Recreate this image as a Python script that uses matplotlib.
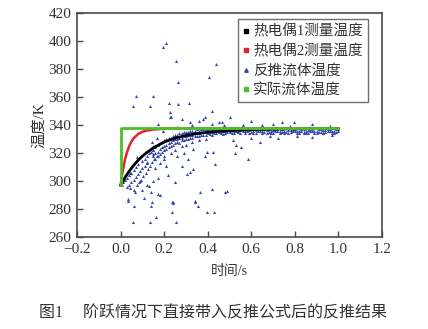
import matplotlib
matplotlib.use("Agg")
import matplotlib.pyplot as plt
from matplotlib.lines import Line2D

plt.rcParams['font.family'] = ['Liberation Serif', 'Noto Sans CJK SC']
plt.rcParams['axes.unicode_minus'] = True

# thermocouple readings (step input)
tc1_t = [0.0, 0.02, 0.04, 0.06, 0.08, 0.10, 0.12, 0.15, 0.18, 0.21, 0.25,
         0.30, 0.35, 0.40, 0.50, 0.60, 0.70, 0.80, 0.90, 1.0]
tc1_T = [297.0, 302.4, 307.1, 311.2, 314.7, 317.7, 320.3, 323.6, 326.2, 328.4, 330.6,
         332.5, 333.9, 334.8, 336.0, 336.7, 337.1, 337.3, 337.5, 337.5]

tc2_t = [0.0, 0.005, 0.01, 0.02, 0.03, 0.04, 0.05, 0.06, 0.08, 0.10, 0.12,
         0.15, 0.20, 0.30, 0.50, 0.70, 1.0]
tc2_T = [297.0, 302.6, 307.4, 315.2, 320.9, 325.1, 328.2, 330.5, 333.5, 335.1, 336.0,
         336.8, 337.3, 337.5, 337.5, 337.5, 337.5]

# actual fluid temperature: step from 297 K to 338 K at t = 0
real_t = [0.0, 0.0, 1.0]
real_T = [297.0, 338.0, 338.0]

# inverse-calculated fluid temperature, dense part
band_t = [0.005, 0.012, 0.020, 0.030, 0.040, 0.050, 0.060, 0.070, 0.080,
          0.030, 0.040, 0.050, 0.060, 0.070, 0.080, 0.090, 0.100, 0.110, 0.120,
          0.075, 0.085, 0.095, 0.105, 0.115, 0.125, 0.135, 0.145, 0.155, 0.165,
          0.100, 0.110, 0.120, 0.130, 0.140, 0.150,
          0.15, 0.15, 0.15, 0.16, 0.16, 0.16, 0.17, 0.17, 0.17, 0.18, 0.18, 0.18,
          0.19, 0.19, 0.19, 0.20, 0.20, 0.20, 0.20, 0.21, 0.21, 0.21,
          0.22, 0.22, 0.22, 0.23, 0.23, 0.23, 0.23, 0.24, 0.24, 0.24,
          0.25, 0.25, 0.25, 0.25, 0.26, 0.26, 0.26, 0.27, 0.27, 0.27,
          0.28, 0.28, 0.28, 0.28, 0.29, 0.29, 0.29, 0.30, 0.30, 0.30, 0.30,
          0.31, 0.31, 0.31, 0.32, 0.32, 0.32, 0.33, 0.33, 0.33, 0.33,
          0.34, 0.34, 0.34, 0.35, 0.35, 0.35, 0.36, 0.36, 0.36, 0.36,
          0.37, 0.37, 0.37, 0.38, 0.38, 0.38, 0.39, 0.39, 0.39, 0.39,
          0.40, 0.40, 0.40, 0.41, 0.41, 0.42, 0.42, 0.42, 0.43, 0.43,
          0.44, 0.44, 0.44, 0.45, 0.45, 0.46, 0.46, 0.46, 0.47, 0.47,
          0.48, 0.48, 0.48, 0.49, 0.49, 0.50, 0.50, 0.50, 0.51, 0.51,
          0.52, 0.52, 0.52, 0.53, 0.53, 0.54, 0.54, 0.54, 0.55, 0.55,
          0.56, 0.56, 0.57, 0.57, 0.58, 0.58, 0.59, 0.59, 0.60, 0.60,
          0.61, 0.61, 0.62, 0.62, 0.63, 0.63, 0.64, 0.64, 0.65, 0.65,
          0.66, 0.66, 0.67, 0.67, 0.68, 0.68, 0.69, 0.69, 0.70, 0.70,
          0.71, 0.71, 0.72, 0.72, 0.73, 0.73, 0.74, 0.74, 0.75, 0.75,
          0.76, 0.76, 0.77, 0.77, 0.78, 0.78, 0.79, 0.79, 0.80, 0.80,
          0.81, 0.81, 0.82, 0.82, 0.83, 0.83, 0.84, 0.84, 0.85, 0.85,
          0.86, 0.86, 0.87, 0.87, 0.88, 0.88, 0.89, 0.89, 0.90, 0.90,
          0.91, 0.91, 0.92, 0.92, 0.93, 0.93, 0.94, 0.94, 0.95, 0.95,
          0.96, 0.96, 0.97, 0.97, 0.98, 0.98, 0.99, 0.99, 1.00, 1.00]
band_T = [297.5, 299.0, 300.5, 302.0, 304.0, 306.0, 308.0, 310.0, 312.0,
          296.0, 297.5, 299.0, 301.0, 303.0, 305.0, 307.0, 309.0, 311.0, 313.0,
          297.0, 299.0, 301.0, 303.5, 306.0, 308.5, 311.0, 313.5, 316.0, 318.0,
          314.0, 316.0, 318.0, 320.0, 321.0, 322.0,
          318.0, 322.0, 325.0, 320.0, 324.0, 316.0, 321.0, 326.0, 318.0, 323.0, 319.0, 327.0,
          324.0, 328.0, 321.0, 325.0, 322.0, 329.0, 318.0, 326.0, 330.0, 323.0,
          327.0, 324.0, 331.0, 328.0, 325.0, 331.0, 320.0, 329.0, 326.0, 332.0,
          330.0, 327.0, 333.0, 322.0, 330.0, 328.0, 333.0, 331.0, 327.0, 334.0,
          331.0, 329.0, 334.0, 325.0, 332.0, 329.0, 335.0, 332.0, 330.0, 335.0, 326.0,
          333.0, 330.0, 335.0, 333.0, 331.0, 336.0, 333.0, 331.0, 336.0, 328.0,
          334.0, 332.0, 336.0, 334.0, 332.0, 337.0, 334.0, 332.0, 336.0, 329.0,
          335.0, 333.0, 337.0, 335.0, 333.0, 337.0, 335.0, 333.0, 337.0, 330.0,
          335.0, 334.0, 337.0, 336.0, 333.5, 335.0, 333.0, 337.0, 336.0, 334.0,
          336.0, 334.0, 337.0, 335.0, 337.5, 336.0, 334.0, 337.0, 335.5, 333.5,
          336.0, 334.0, 338.0, 335.0, 337.0, 336.0, 335.0, 337.0, 334.5, 336.5,
          336.0, 334.0, 337.0, 335.5, 337.5, 336.0, 335.0, 337.0, 334.5, 336.5,
          335.5, 337.0, 336.0, 334.5, 335.5, 337.0, 336.5, 334.0, 335.0, 337.0,
          336.0, 334.5, 336.5, 334.0, 335.5, 337.5, 335.5, 337.5, 336.0, 334.5,
          335.0, 337.0, 336.5, 334.5, 335.0, 337.0, 336.0, 334.5, 336.5, 334.0,
          335.5, 337.0, 335.5, 337.0, 336.0, 334.5, 335.0, 337.0, 336.0, 334.5,
          335.0, 337.5, 336.5, 334.5, 336.5, 335.0, 335.5, 337.0, 335.5, 337.0,
          336.0, 334.5, 336.0, 334.5, 335.5, 337.0, 335.0, 337.0, 336.0, 334.5,
          336.5, 334.5, 335.5, 337.0, 335.5, 337.0, 336.0, 334.5, 336.0, 334.5,
          335.0, 337.0, 335.0, 337.0, 336.5, 334.5, 336.5, 335.0, 335.5, 337.0,
          335.5, 337.0, 336.0, 334.5, 336.0, 334.5, 335.0, 337.0, 335.5, 337.0]

# inverse-calculated fluid temperature, scattered outliers
scat_t = [0.195, 0.207, 0.253, 0.265, 0.406, 0.440,
          0.070, 0.148, 0.057, 0.135, 0.220, 0.265, 0.315,
          0.227, 0.227, 0.257, 0.318, 0.380, 0.418, 0.464, 0.502, 0.418,
          0.387, 0.361, 0.453, 0.476, 0.563, 0.330,
          0.742, 0.795, 0.777, 0.723, 0.812, 0.843, 0.927, 0.684,
          0.395, 0.425, 0.525, 0.555, 0.586, 0.640, 0.517, 0.333, 0.320,
          0.303, 0.333, 0.250, 0.219, 0.280, 0.341, 0.479, 0.364, 0.418,
          0.433, 0.387, 0.242, 0.173, 0.143, 0.066, 0.035,
          0.196, 0.166, 0.143, 0.150, 0.120, 0.074, 0.043,
          0.057, 0.135, 0.162, 0.237, 0.253, 0.033, 0.107, 0.180, 0.237,
          0.340, 0.356, 0.395, 0.490, 0.430, 0.060, 0.140, 0.060, 0.100,
          0.140, 0.240, 0.532, 0.600, 0.650, 0.700, 0.880, 0.960, 0.170,
          0.280, 0.230, 0.090, 0.120, 0.170, 0.150, 0.130, 0.020, 0.045,
          0.160, 0.180, 0.200, 0.210, 0.260, 0.290, 0.310, 0.600, 0.880, 0.970]
scat_T = [395.7, 398.6, 386.0, 371.0, 374.0, 383.5,
          360.7, 360.7, 353.6, 353.6, 356.0, 355.0, 356.0,
          349.0, 345.5, 338.6, 342.0, 344.5, 341.0, 342.0, 345.7, 350.0,
          345.5, 342.9, 342.4, 340.0, 340.0, 340.0,
          342.4, 342.4, 339.3, 330.5, 332.0, 334.5, 334.0, 332.0,
          321.0, 321.0, 319.8, 324.0, 316.0, 328.0, 329.0, 323.0, 306.6,
          305.0, 308.8, 299.0, 304.0, 311.0, 286.0, 292.0, 292.0, 294.5,
          312.0, 318.0, 285.0, 291.0, 285.0, 292.0, 286.0,
          336.0, 331.0, 328.0, 319.5, 313.6, 317.0, 306.0,
          270.5, 270.5, 274.0, 277.8, 270.7, 287.0, 288.0, 290.0, 285.0,
          285.0, 282.0, 278.0, 293.0, 278.0, 282.0, 282.0, 293.6, 293.6,
          292.0, 284.0, 325.5, 342.5, 340.0, 341.0, 340.5, 339.5, 341.0,
          344.0, 346.0, 300.0, 297.0, 302.0, 300.0, 296.5, 304.0, 295.0,
          309.0, 313.0, 316.0, 311.0, 318.0, 320.0, 316.0, 331.0, 331.5, 333.0]

labels = ['热电偶1测量温度', '热电偶2测量温度', '反推流体温度', '实际流体温度']
blue = '#3545ad'
red = '#e3232c'
green = '#4dbf2a'
edge = '#4a4a4a'

fig = plt.figure(figsize=(4.28, 3.29), dpi=100)
ax = fig.add_axes([0.18, 0.2796, 0.7125, 0.681])

ax.scatter(band_t + scat_t, band_T + scat_T, marker='^', s=5, color=blue,
           linewidths=0, zorder=2)
ax.plot(tc1_t, tc1_T, color='black', lw=2.0, zorder=3)
ax.plot(tc2_t, tc2_T, color=red, lw=1.8, zorder=4)
ax.plot(real_t, real_T, color=green, lw=2.0, zorder=5)

ax.set_xlim(-0.2, 1.2)
ax.set_ylim(260, 420)
ax.set_xticks([-0.2, 0.0, 0.2, 0.4, 0.6, 0.8, 1.0, 1.2])
ax.set_yticks(range(260, 421, 20))
ax.tick_params(direction='in', length=4, width=1.0, color=edge, labelsize=11,
               labelcolor='#333333', top=False, right=False, pad=4)
for sp in ax.spines.values():
    sp.set_color(edge)
    sp.set_linewidth(1.2)

ax.set_xlabel('时间/s', fontsize=10, color='#333333', labelpad=7)
ax.set_ylabel('温度/K', fontsize=11, color='#333333', labelpad=2)

handles = [
    Line2D([], [], ls='none', marker='s', ms=3, color='black'),
    Line2D([], [], ls='none', marker='s', ms=3, color=red),
    Line2D([], [], ls='none', marker='^', ms=2.5, color=blue),
    Line2D([], [], ls='none', marker='s', ms=3, color=green),
]
leg = ax.legend(handles, labels, loc='upper right', bbox_to_anchor=(0.955, 0.972),
                fontsize=10.5, frameon=True, fancybox=False, handlelength=0.4,
                handletextpad=0.3, labelspacing=0.38, borderpad=0.35,
                borderaxespad=0.0)
leg.get_frame().set_edgecolor(edge)
leg.get_frame().set_linewidth(1.0)
for txt in leg.get_texts():
    txt.set_color('#333333')

fig.text(0.497, 0.047, '图1     阶跃情况下直接带入反推公式后的反推结果',
         ha='center', va='center', fontsize=11.5, color='#333333')

fig.savefig('out.png', dpi=100)
